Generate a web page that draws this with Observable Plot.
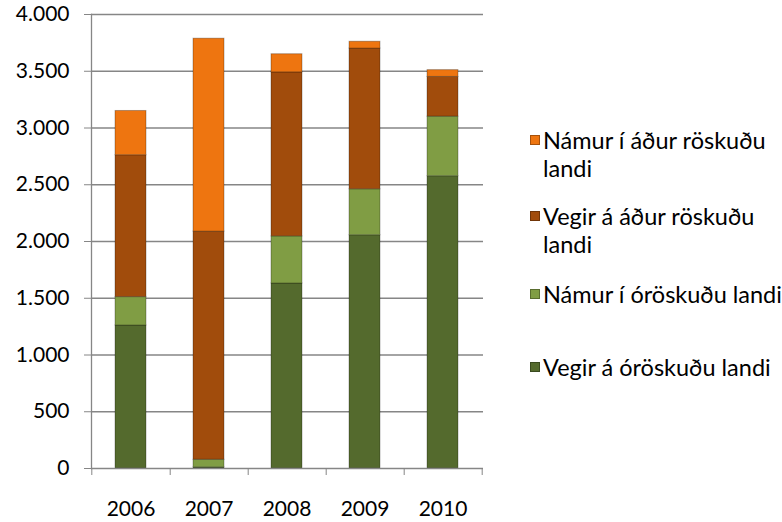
<!DOCTYPE html>
<html>
<head>
<meta charset="utf-8">
<script src="https://cdn.jsdelivr.net/npm/d3@7"></script>
<script src="https://cdn.jsdelivr.net/npm/@observablehq/plot@0.6"></script>
<style>
  html, body { margin: 0; padding: 0; background: #fff; }
  #wrap { position: relative; width: 782px; height: 522px; font-family: Lato, "Open Sans", sans-serif; }
  #chart { position: absolute; left: 0; top: 0; }
  .lg { position: absolute; left: 530px; font-size: 23.5px; line-height: 28px; color: #000; }
  .lg .sw { position: absolute; left: 0; top: 9px; width: 10px; height: 10px; box-sizing: border-box; border: 1px solid rgba(0,0,0,0.3); }
  .lg .tx { margin-left: 13px; white-space: nowrap; }
</style>
</head>
<body>
<div id="wrap">
  <div id="chart"></div>
</div>
<script>
const years = ["2006", "2007", "2008", "2009", "2010"];
const seriesNames = [
  "Vegir á óröskuðu landi",
  "Námur í óröskuðu landi",
  "Vegir á áður röskuðu landi",
  "Námur í áður röskuðu landi"
];
const seriesColors = ["#546A2D", "#809D44", "#A14C0C", "#EE7510"];
const vegirOroskudu   = [1260,   10, 1630, 2055, 2575];
const namurOroskudu   = [ 250,   67,  415,  405,  525];
const vegirAdurRosk   = [1250, 2010, 1445, 1240,  350];
const namurAdurRosk   = [ 390, 1700,  160,   60,   60];
const yTicks = [0, 500, 1000, 1500, 2000, 2500, 3000, 3500, 4000];

const seriesValues = [vegirOroskudu, namurOroskudu, vegirAdurRosk, namurAdurRosk];
const data = [];
seriesNames.forEach((s, si) => years.forEach((y, yi) => data.push({year: y, series: s, value: seriesValues[si][yi]})));

const fmt = d3.formatLocale({thousands: ".", grouping: [3], decimal: ","}).format(",");
const step = (483 - 91) / years.length;

const chart = Plot.plot({
  width: 500,
  height: 522,
  marginLeft: 91,
  marginRight: 17,
  marginTop: 14,
  marginBottom: 54,
  style: {fontFamily: "Lato, 'Open Sans', sans-serif", fontSize: "21px", color: "#000", background: "#fff"},
  x: {domain: years, paddingInner: 0.6, paddingOuter: 0.3, axis: null, label: null},
  y: {domain: [0, 4000], ticks: yTicks, axis: null, label: null},
  color: {domain: seriesNames, range: seriesColors},
  marks: [
    Plot.gridY(yTicks.filter(d => d > 0), {stroke: "#868686", strokeOpacity: 1, strokeWidth: 1.3}),
    Plot.barY(data, Plot.stackY({
      x: "year", y: "value", fill: "series", order: seriesNames,
      stroke: "#000", strokeOpacity: 0.28, strokeWidth: 1
    })),
    Plot.axisY({ticks: yTicks, tickSize: 7, tickPadding: 15, tickFormat: fmt, stroke: "#868686", fontSize: 21, fill: "#000", label: null}),
    Plot.frame({anchor: "left", stroke: "#868686", strokeWidth: 1.3}),
    Plot.ruleY([0], {stroke: "#868686", strokeWidth: 1.3}),
    Plot.axisX({ticks: years, tickSize: 7, tickFormat: () => "", dx: step / 2, stroke: "#868686", label: null}),
    Plot.axisX({ticks: [years[0]], tickSize: 7, tickFormat: () => "", dx: -step / 2, stroke: "#868686", label: null}),
    Plot.axisX({ticks: years, tickSize: 0, tickPadding: 33, fontSize: 21, fill: "#000", label: null})
  ]
});
document.getElementById("chart").appendChild(chart);

// legend (top to bottom: reverse of stack order)
const legendItems = [
  {name: "Námur í áður röskuðu<br>landi", color: seriesColors[3], top: 126},
  {name: "Vegir á áður röskuðu<br>landi", color: seriesColors[2], top: 202},
  {name: "Námur í óröskuðu landi", color: seriesColors[1], top: 280},
  {name: "Vegir á óröskuðu landi", color: seriesColors[0], top: 353}
];
const wrap = document.getElementById("wrap");
legendItems.forEach(it => {
  const d = document.createElement("div");
  d.className = "lg";
  d.style.top = it.top + "px";
  d.innerHTML = `<span class="sw" style="background:${it.color}"></span><div class="tx">${it.name}</div>`;
  wrap.appendChild(d);
});
</script>
</body>
</html>
